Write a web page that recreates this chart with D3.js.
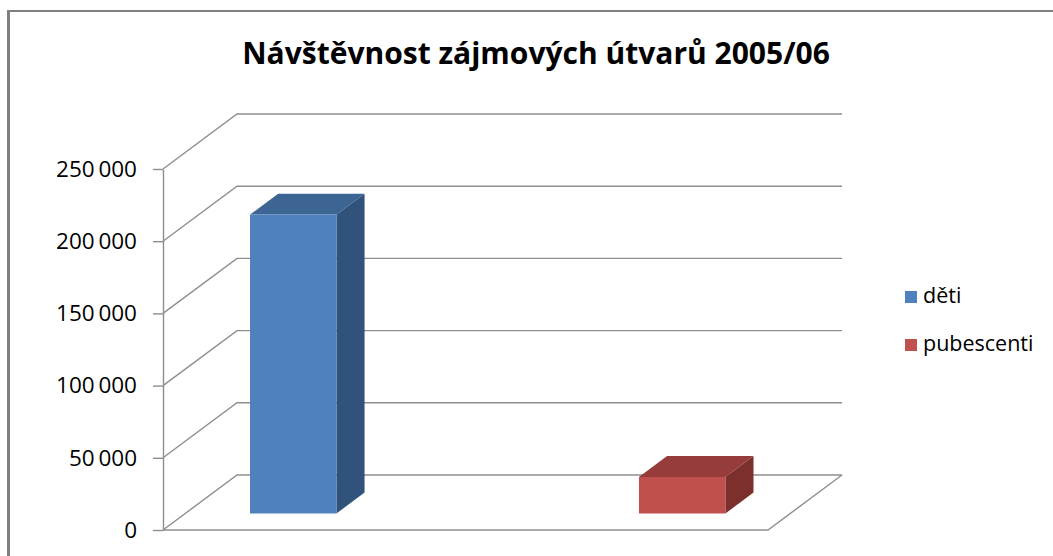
<!DOCTYPE html>
<html>
<head>
<meta charset="utf-8">
<script src="https://cdn.jsdelivr.net/npm/d3@7"></script>
<style>
  body { margin: 0; background: #fff; }
  text { font-family: "Open Sans", "Noto Sans", sans-serif; fill: #000; }
</style>
</head>
<body>
<svg id="chart" width="1053" height="556"></svg>
<script>
// data
const chartTitle = "Návštěvnost zájmových útvarů 2005/06";
const categories = ["A", "B"];
const seriesNames = ["děti", "pubescenti"];
const detiValues = [207000, null];
const pubescentiValues = [null, 25300];
const yTicks = [0, 50000, 100000, 150000, 200000, 250000];

const seriesColors = {
  "děti": { front: "#4f81bd", top: "#3d6594", side: "#30527b" },
  "pubescenti": { front: "#c0504d", top: "#963d3b", side: "#7b302e" }
};

const width = 1053, height = 556;
const svg = d3.select("#chart");

// chart frame (only top and left edges visible)
svg.append("line").attr("x1", 7).attr("x2", 1053).attr("y1", 11).attr("y2", 11)
  .attr("stroke", "#7f7f7f").attr("stroke-width", 2);
svg.append("line").attr("x1", 8.5).attr("x2", 8.5).attr("y1", 10).attr("y2", height)
  .attr("stroke", "#7f7f7f").attr("stroke-width", 3);

// title
svg.append("text")
  .attr("x", 536).attr("y", 64)
  .attr("text-anchor", "middle")
  .style("font-size", "30px")
  .style("font-weight", "bold")
  .text(chartTitle);

// 3d box geometry: front plane + depth offset
const depthDx = 74, depthDy = -55;
const x0 = d3.scaleBand().domain(categories).range([163, 768]).paddingInner(0).paddingOuter(0);
const x1 = d3.scaleBand().domain(seriesNames).range([0, x0.bandwidth()]).paddingInner(0).paddingOuter(0.75);
const y = d3.scaleLinear().domain([0, 250000]).range([530, 169]);
const proj = (xf, v, d) => [xf + d * depthDx, y(v) + d * depthDy];

const gridColor = "#8e8e8e";
const grid = svg.append("g").attr("fill", "none").attr("stroke", gridColor).attr("stroke-width", 1.4);

// left wall diagonals and back wall lines
yTicks.forEach(t => {
  const a = proj(163, t, 0), b = proj(163, t, 1), c = proj(768, t, 1);
  grid.append("path").attr("d", d3.line()([a, b, c]));
});
// floor front edge and right edge
grid.append("path").attr("d", d3.line()([proj(163, 0, 0), proj(768, 0, 0), proj(768, 0, 1)]));

// value axis
const fmt = d3.formatLocale({ decimal: ",", thousands: "\u2009", grouping: [3], currency: ["", " Kč"] }).format(",d");
const axis = svg.append("g")
  .attr("transform", "translate(163,0)")
  .call(d3.axisLeft(y).tickValues(yTicks).tickFormat(fmt).tickSize(10).tickSizeOuter(0).tickPadding(16));
axis.selectAll("path, line").attr("stroke", gridColor).attr("stroke-width", 1.4);
axis.selectAll("text")
  .style("font-family", "\"Open Sans\", sans-serif")
  .style("font-size", "22.5px")
  .attr("fill", "#000");

// bars
const dFront = 0.3, dBack = 0.68;
const bars = svg.append("g");
const seriesData = [
  { name: "děti", values: detiValues },
  { name: "pubescenti", values: pubescentiValues }
];

seriesData.forEach(s => {
  s.values.forEach((v, i) => {
    if (v == null) return;
    const c = seriesColors[s.name];
    const xl = x0(categories[i]) + x1(s.name);
    const xr = xl + x1.bandwidth();
    const fbl = proj(xl, 0, dFront), fbr = proj(xr, 0, dFront);
    const ftl = proj(xl, v, dFront), ftr = proj(xr, v, dFront);
    const btl = proj(xl, v, dBack), btr = proj(xr, v, dBack), bbr = proj(xr, 0, dBack);
    const poly = pts => d3.line()(pts) + "Z";
    bars.append("path").attr("d", poly([fbr, ftr, btr, bbr])).attr("fill", c.side);
    bars.append("path").attr("d", poly([ftl, ftr, btr, btl])).attr("fill", c.top);
    bars.append("path").attr("d", poly([fbl, fbr, ftr, ftl])).attr("fill", c.front);
  });
});

// legend
const legend = svg.append("g").attr("transform", "translate(905,291)");
seriesNames.forEach((name, i) => {
  const row = legend.append("g").attr("transform", `translate(0,${i * 48})`);
  row.append("rect").attr("width", 12).attr("height", 12).attr("fill", seriesColors[name].front);
  row.append("text").attr("x", 18).attr("y", 12)
    .style("font-size", "21.5px")
    .text(name);
});
</script>
</body>
</html>
